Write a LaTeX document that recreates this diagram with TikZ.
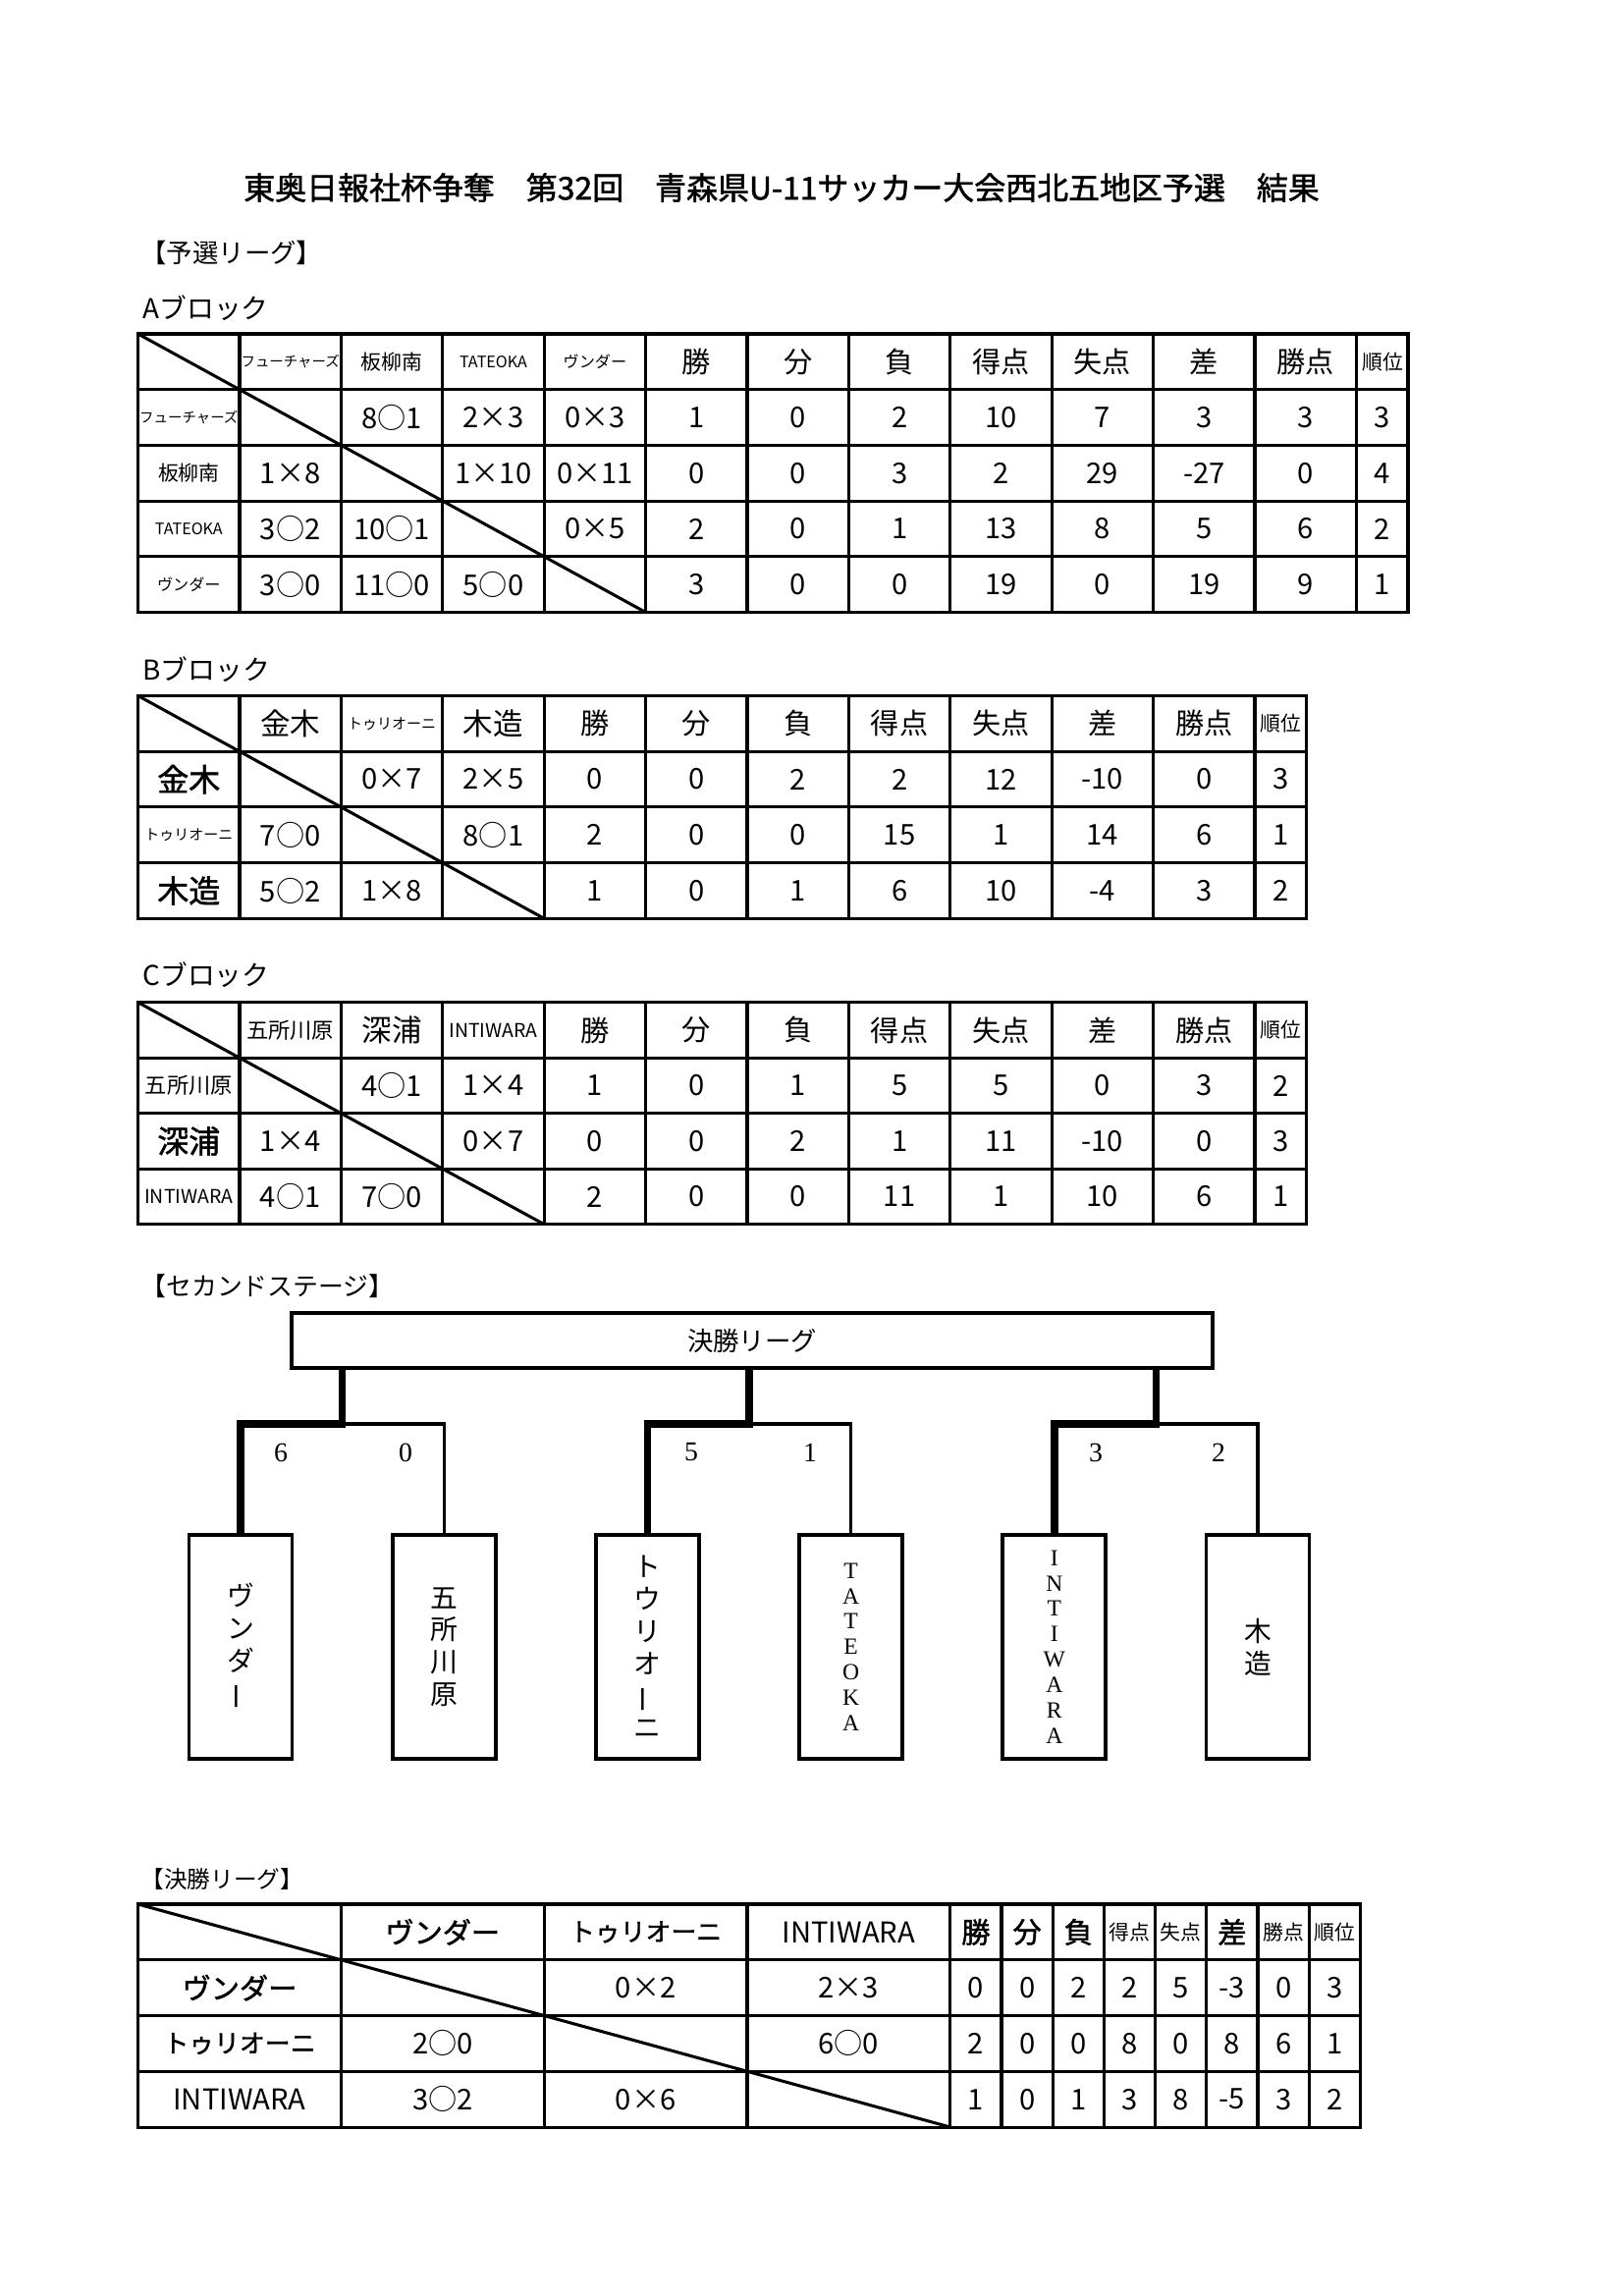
\documentclass[tikz,border=0pt]{standalone}
\usepackage{fontspec}
\usepackage{graphicx}
\setmainfont{Noto Sans CJK JP}[AutoFakeBold=1.5]
\newfontfamily\mincho{Liberation Serif}
\usetikzlibrary{positioning,calc}
\newcommand{\setfs}[1]{\fontsize{#1}{#1}\selectfont}
\newcommand{\vbar}{\rotatebox[origin=c]{90}{ー}}
\tikzset{
    cell/.style={inner sep=0pt, font=\setfs{10.5}},
    rule/.style={line width=1.1pt, line cap=rect},
    diag/.style={line width=1.1pt},
    head/.style={anchor=west, inner sep=0pt},
    winline/.style={line width=2.7pt, line join=miter},
    loseline/.style={line width=1.2pt},
    team/.style={draw, line width=1.4pt, minimum width=37.8pt, minimum height=82pt, inner sep=0pt, align=center, font=\fontsize{10}{11.8}\selectfont},
    teamlat/.style={team, font=\mincho\fontsize{8.5}{9.3}\selectfont},
    score/.style={inner sep=0pt, font=\mincho\setfs{10}}
}

\begin{document}
\begin{tikzpicture}[x=0.35992pt, y=-0.35992pt]
    \fill[white] (0,0) rectangle (1654,2338);
    \useasboundingbox (0,0) rectangle (1654,2338);

    \node[font=\setfs{11.5}\bfseries] (title) at (796,191) {東奥日報社杯争奪　第32回　青森県U-11サッカー大会西北五地区予選　結果};
    \node[head, font=\setfs{9.5}] (hY) at (143,257) {【予選リーグ】};

    % A block
    \node[head, font=\setfs{10}] (hA) at (145,314) {Aブロック};
    \foreach \row in {0,...,5}
        \draw[rule] (140.6,{340+56.7*\row}) -- (1434,{340+56.7*\row});
    \foreach \col in {0,...,12}
        \draw[rule] ({140.6+103.4*\col},340) -- ({140.6+103.4*\col},623.5);
    \draw[rule] (1434,340) -- (1434,623.5);
    \draw[diag] (140.6,340) -- (657.6,623.5);
    \foreach \col/\row/\txt in {
        1/0/{\setfs{5.2}フューチャーズ}, 2/0/{\setfs{7.5}板柳南}, 3/0/{\setfs{5.8}TATEOKA}, 4/0/{\setfs{5.8}ヴンダー},
        5/0/勝, 6/0/分, 7/0/負, 8/0/得点, 9/0/失点, 10/0/差, 11/0/勝点,
        0/1/{\setfs{5.2}フューチャーズ}, 2/1/8○1, 3/1/2×3, 4/1/0×3, 5/1/1, 6/1/0, 7/1/2, 8/1/10, 9/1/7, 10/1/3, 11/1/3,
        0/2/{\setfs{7.5}板柳南}, 1/2/1×8, 3/2/1×10, 4/2/0×11, 5/2/0, 6/2/0, 7/2/3, 8/2/2, 9/2/29, 10/2/-27, 11/2/0,
        0/3/{\setfs{5.8}TATEOKA}, 1/3/3○2, 2/3/10○1, 4/3/0×5, 5/3/2, 6/3/0, 7/3/1, 8/3/13, 9/3/8, 10/3/5, 11/3/6,
        0/4/{\setfs{5.8}ヴンダー}, 1/4/3○0, 2/4/11○0, 3/4/5○0, 5/4/3, 6/4/0, 7/4/0, 8/4/19, 9/4/0, 10/4/19, 11/4/9}
        \node[cell] (a-\row-\col) at ({140.6+103.4*(\col+0.5)},{340+56.7*(\row+0.5)}) {\txt};
    \foreach \row/\txt in {0/{\setfs{7.5}順位}, 1/3, 2/4, 3/2, 4/1}
        \node[cell] (a-\row-12) at (1408,{340+56.7*(\row+0.5)}) {\txt};

    % B block
    \node[head, font=\setfs{10}] (hB) at (145,682) {Bブロック};
    \foreach \row in {0,...,4}
        \draw[rule] (140.6,{708.5+56.7*\row}) -- (1330.7,{708.5+56.7*\row});
    \foreach \col in {0,...,11}
        \draw[rule] ({140.6+103.4*\col},708.5) -- ({140.6+103.4*\col},935.3);
    \draw[rule] (1330.7,708.5) -- (1330.7,935.3);
    \draw[diag] (140.6,708.5) -- (554.2,935.3);
    \foreach \col/\row/\txt in {
        1/0/{\setfs{11}金木}, 2/0/{\setfs{5.4}トゥリオーニ}, 3/0/{\setfs{11}木造},
        4/0/勝, 5/0/分, 6/0/負, 7/0/得点, 8/0/失点, 9/0/差, 10/0/勝点,
        0/1/{\setfs{11.5}\bfseries 金木}, 2/1/0×7, 3/1/2×5, 4/1/0, 5/1/0, 6/1/2, 7/1/2, 8/1/12, 9/1/-10, 10/1/0,
        0/2/{\setfs{5.4}トゥリオーニ}, 1/2/7○0, 3/2/8○1, 4/2/2, 5/2/0, 6/2/0, 7/2/15, 8/2/1, 9/2/14, 10/2/6,
        0/3/{\setfs{11.5}\bfseries 木造}, 1/3/5○2, 2/3/1×8, 4/3/1, 5/3/0, 6/3/1, 7/3/6, 8/3/10, 9/3/-4, 10/3/3}
        \node[cell] (b-\row-\col) at ({140.6+103.4*(\col+0.5)},{708.5+56.7*(\row+0.5)}) {\txt};
    \foreach \row/\txt in {0/{\setfs{7.5}順位}, 1/3, 2/1, 3/2}
        \node[cell] (b-\row-11) at (1304.5,{708.5+56.7*(\row+0.5)}) {\txt};

    % C block
    \node[head, font=\setfs{10}] (hC) at (145,993) {Cブロック};
    \foreach \row in {0,...,4}
        \draw[rule] (140.6,{1020.7+56.5*\row}) -- (1330.7,{1020.7+56.5*\row});
    \foreach \col in {0,...,11}
        \draw[rule] ({140.6+103.4*\col},1020.7) -- ({140.6+103.4*\col},1246.7);
    \draw[rule] (1330.7,1020.7) -- (1330.7,1246.7);
    \draw[diag] (140.6,1020.7) -- (554.2,1246.7);
    \foreach \col/\row/\txt in {
        1/0/{\setfs{8}五所川原}, 2/0/{\setfs{11}深浦}, 3/0/{\setfs{7}INTIWARA},
        4/0/勝, 5/0/分, 6/0/負, 7/0/得点, 8/0/失点, 9/0/差, 10/0/勝点,
        0/1/{\setfs{8}五所川原}, 2/1/4○1, 3/1/1×4, 4/1/1, 5/1/0, 6/1/1, 7/1/5, 8/1/5, 9/1/0, 10/1/3,
        0/2/{\setfs{11.5}\bfseries 深浦}, 1/2/1×4, 3/2/0×7, 4/2/0, 5/2/0, 6/2/2, 7/2/1, 8/2/11, 9/2/-10, 10/2/0,
        0/3/{\setfs{7}INTIWARA}, 1/3/4○1, 2/3/7○0, 4/3/2, 5/3/0, 6/3/0, 7/3/11, 8/3/1, 9/3/10, 10/3/6}
        \node[cell] (c-\row-\col) at ({140.6+103.4*(\col+0.5)},{1020.7+56.5*(\row+0.5)}) {\txt};
    \foreach \row/\txt in {0/{\setfs{7.5}順位}, 1/2, 2/3, 3/1}
        \node[cell] (c-\row-11) at (1304.5,{1020.7+56.5*(\row+0.5)}) {\txt};

    % second stage
    \node[head, font=\setfs{9.3}] (hS) at (143,1310) {【セカンドステージ】};
    \node[draw, line width=1.2pt, minimum width=337.6pt, minimum height=20.2pt, font=\setfs{9.5}] (final) at (766,1365) {決勝リーグ};
    \node[team] (t1) at (245,1677) {ヴ\\ン\\ダ\\\vbar};
    \node[team] (t2) at (452.2,1677) {五\\所\\川\\原};
    \node[team] (t3) at (659.4,1677) {ト\\ウ\\リ\\オ\\\vbar\\ニ};
    \node[teamlat] (t4) at (866.6,1677) {T\\A\\T\\E\\O\\K\\A};
    \node[teamlat] (t5) at (1073.8,1677) {I\\N\\T\\I\\W\\A\\R\\A};
    \node[team] (t6) at (1281,1677) {木\\造};
    \foreach \j/\w/\l/\x in {1/t1/t2/348.6, 2/t3/t4/763, 3/t5/t6/1177.4} {
        \coordinate (j\j) at (\x,1450);
        \draw[winline] (j\j |- final.south) -- (j\j) -- (j\j -| \w) -- (\w.north);
        \draw[loseline] (j\j) -- (j\j -| \l) -- (\l.north);
    }
    \foreach \n/\x/\txt in {1/286/6, 2/413/0, 3/704/5, 4/825/1, 5/1116/3, 6/1241/2}
        \node[score] (s\n) at (\x,1479) {\txt};

    % final league
    \node[head, font=\setfs{8.5}] (hF) at (143,1913) {【決勝リーグ】};
    \foreach \row in {0,...,4}
        \draw[rule] (140.6,{1939+56.75*\row}) -- (1385.4,{1939+56.75*\row});
    \foreach \col in {0,...,4}
        \draw[rule] ({140.6+206.8*\col},1939) -- ({140.6+206.8*\col},2166);
    \foreach \col in {1,...,8}
        \draw[rule] ({967.8+52.2*\col},1939) -- ({967.8+52.2*\col},2166);
    \draw[diag] (140.6,1939) -- (967.8,2166);
    \foreach \col/\row/\txt in {
        1/0/{\bfseries ヴンダー}, 2/0/{\setfs{9.3}\bfseries トゥリオーニ}, 3/0/INTIWARA,
        0/1/{\bfseries ヴンダー}, 2/1/0×2, 3/1/2×3,
        0/2/{\setfs{9.3}\bfseries トゥリオーニ}, 1/2/2○0, 3/2/6○0,
        0/3/INTIWARA, 1/3/3○2, 2/3/0×6}
        \node[cell] (f-\row-\col) at ({140.6+206.8*(\col+0.5)},{1939+56.75*(\row+0.5)}) {\txt};
    \foreach \col/\row/\txt in {
        0/0/{\bfseries 勝}, 1/0/{\bfseries 分}, 2/0/{\bfseries 負}, 3/0/{\setfs{7.5}得点},
        4/0/{\setfs{7.5}失点}, 5/0/{\bfseries 差}, 6/0/{\setfs{7.5}勝点}, 7/0/{\setfs{7.5}順位},
        0/1/0, 1/1/0, 2/1/2, 3/1/2, 4/1/5, 5/1/-3, 6/1/0, 7/1/3,
        0/2/2, 1/2/0, 2/2/0, 3/2/8, 4/2/0, 5/2/8, 6/2/6, 7/2/1,
        0/3/1, 1/3/0, 2/3/1, 3/3/3, 4/3/8, 5/3/-5, 6/3/3, 7/3/2}
        \node[cell] (g-\row-\col) at ({967.8+52.2*(\col+0.5)},{1939+56.75*(\row+0.5)}) {\txt};
\end{tikzpicture}
\end{document}
